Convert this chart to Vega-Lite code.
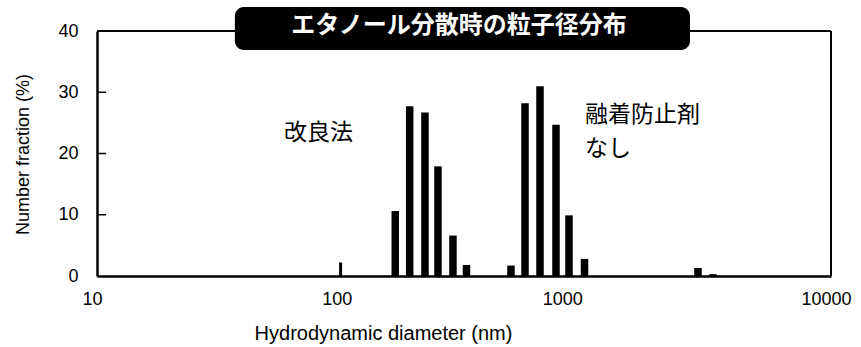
{
  "$schema": "https://vega.github.io/schema/vega-lite/v6.json",
  "width": 734,
  "height": 245,
  "autosize": {"type": "none"},
  "padding": {"left": 97, "top": 31, "right": 30, "bottom": 71},
  "background": "white",
  "config": {"view": {"stroke": null}, "font": "Liberation Sans"},
  "datasets": {
    "bars": [
      {"d": 99, "pct": 2.2, "sample": "改良法"},
      {"d": 165.6, "pct": 10.6, "sample": "改良法"},
      {"d": 189.7, "pct": 27.7, "sample": "改良法"},
      {"d": 219, "pct": 26.7, "sample": "改良法"},
      {"d": 247.5, "pct": 17.9, "sample": "改良法"},
      {"d": 285, "pct": 6.6, "sample": "改良法"},
      {"d": 323.7, "pct": 1.8, "sample": "改良法"},
      {"d": 492, "pct": 1.7, "sample": "融着防止剤なし"},
      {"d": 561.5, "pct": 28.2, "sample": "融着防止剤なし"},
      {"d": 646.6, "pct": 31.0, "sample": "融着防止剤なし"},
      {"d": 751.6, "pct": 24.7, "sample": "融着防止剤なし"},
      {"d": 849.4, "pct": 9.9, "sample": "融着防止剤なし"},
      {"d": 983, "pct": 2.8, "sample": "融着防止剤なし"},
      {"d": 2860, "pct": 1.3, "sample": "融着防止剤なし"},
      {"d": 3294, "pct": 0.3, "sample": "融着防止剤なし"}
    ],
    "yticks": [{"pct": 10}, {"pct": 20}, {"pct": 30}],
    "one": [{}]
  },
  "layer": [
    {
      "data": {"name": "bars"},
      "transform": [{"filter": "datum.d >= 120"}],
      "mark": {"type": "bar", "width": 7.5, "color": "black"},
      "encoding": {
        "x": {
          "field": "d", "type": "quantitative",
          "scale": {"type": "log", "domain": [10, 10000], "padding": 0, "nice": false},
          "axis": {
            "values": [10, 100, 1000, 10000],
            "format": "d",
            "grid": false, "ticks": false,
            "domainColor": "black", "domainWidth": 2.5,
            "labelFont": "Liberation Sans", "labelFontSize": 18, "labelColor": "black",
            "labelPadding": 14,
            "labelFlush": false,
            "labelOffset": {"condition": {"test": "datum.value == 1000", "value": -24}, "value": -5},
            "title": "Hydrodynamic diameter (nm)",
            "titleFont": "Liberation Sans", "titleFontSize": 20, "titleFontWeight": "normal", "titleColor": "black",
            "titlePadding": 15,
            "titleX": 286
          }
        },
        "y": {
          "field": "pct", "type": "quantitative",
          "scale": {"domain": [0, 40], "padding": 0, "nice": false},
          "axis": {
            "values": [0, 10, 20, 30, 40],
            "grid": false, "ticks": false,
            "domainColor": "black", "domainWidth": 2.5,
            "labelFont": "Liberation Sans", "labelFontSize": 18, "labelColor": "black",
            "labelPadding": 19,
            "title": "Number fraction (%)",
            "titleFont": "Liberation Sans", "titleFontSize": 18, "titleFontWeight": "normal", "titleColor": "black",
            "titleX": -65, "titleY": 123
          }
        }
      }
    },
    {
      "data": {"name": "bars"},
      "transform": [{"filter": "datum.d < 120"}],
      "mark": {"type": "bar", "width": 3, "color": "black"},
      "encoding": {
        "x": {"field": "d", "type": "quantitative"},
        "y": {"field": "pct", "type": "quantitative"}
      }
    },
    {
      "data": {"name": "yticks"},
      "mark": {"type": "rule", "color": "black", "strokeWidth": 1.5},
      "encoding": {
        "x": {"datum": 10, "type": "quantitative"},
        "x2": {"datum": 10.9},
        "y": {"field": "pct", "type": "quantitative"}
      }
    },
    {
      "data": {"name": "one"},
      "mark": {"type": "rule", "color": "black", "strokeWidth": 2},
      "encoding": {"y": {"datum": 40, "type": "quantitative"}}
    },
    {
      "data": {"name": "one"},
      "mark": {"type": "rule", "color": "black", "strokeWidth": 2},
      "encoding": {"x": {"datum": 10000, "type": "quantitative"}}
    },
    {
      "data": {"name": "one"},
      "mark": {"type": "text", "align": "right", "baseline": "middle", "font": "Noto Sans CJK JP", "fontSize": 23, "color": "black"},
      "encoding": {
        "x": {"datum": 111.2, "type": "quantitative"},
        "y": {"datum": 23.3, "type": "quantitative"},
        "text": {"value": "改良法"}
      }
    },
    {
      "data": {"name": "one"},
      "mark": {"type": "text", "align": "left", "baseline": "middle", "font": "Noto Sans CJK JP", "fontSize": 23, "color": "black"},
      "encoding": {
        "x": {"datum": 987, "type": "quantitative"},
        "y": {"datum": 26.3, "type": "quantitative"},
        "text": {"value": "融着防止剤"}
      }
    },
    {
      "data": {"name": "one"},
      "mark": {"type": "text", "align": "left", "baseline": "middle", "font": "Noto Sans CJK JP", "fontSize": 23, "color": "black"},
      "encoding": {
        "x": {"datum": 987, "type": "quantitative"},
        "y": {"datum": 20.7, "type": "quantitative"},
        "text": {"value": "なし"}
      }
    },
    {
      "data": {"name": "one"},
      "mark": {"type": "rect", "color": "black", "cornerRadius": 9},
      "encoding": {
        "x": {"datum": 36.6, "type": "quantitative"},
        "x2": {"datum": 2653},
        "y": {"datum": 36.9, "type": "quantitative"},
        "y2": {"datum": 43.9}
      }
    },
    {
      "data": {"name": "one"},
      "mark": {"type": "text", "align": "center", "baseline": "middle", "font": "Noto Sans CJK JP", "fontSize": 24, "fontWeight": "bold", "color": "white"},
      "encoding": {
        "x": {"datum": 301.7, "type": "quantitative"},
        "y": {"datum": 40.8, "type": "quantitative"},
        "text": {"value": "エタノール分散時の粒子径分布"}
      }
    }
  ]
}
